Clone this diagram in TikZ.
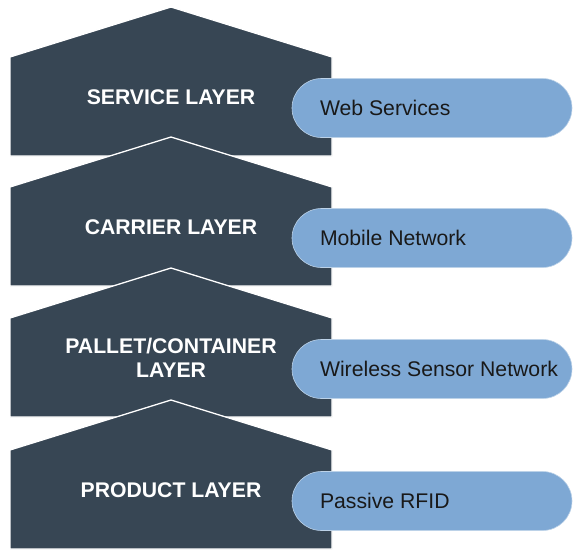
\documentclass[tikz,border=0pt]{standalone}
\usepackage{fontspec}
\setmainfont{Liberation Sans}
\usepackage{tikz}

\definecolor{slate}{HTML}{374654}
\definecolor{techblue}{HTML}{7EA8D4}
\definecolor{techedge}{HTML}{BCD2E8}

\tikzset{
    layer/.style={fill=slate, draw=white, line width=1.3pt, line join=miter},
    layername/.style={text=white, font=\fontsize{21.2}{24.5}\selectfont\bfseries, align=center},
    tech/.style={fill=techblue, draw=techedge, line width=0.6pt, rounded corners=29.5pt,
        minimum height=59pt, inner xsep=28pt, inner ysep=0pt,
        font=\fontsize{21.2}{24}\selectfont, text=black!90}
}

\begin{document}
\begin{tikzpicture}[x=1pt, y=-1pt]
    \useasboundingbox (0,0) rectangle (573,552);

    % Layers, top to bottom
    \foreach \y/\i/\name/\tech in {
        7/service/SERVICE LAYER/Web Services,
        137/carrier/CARRIER LAYER/Mobile Network,
        268/pallet/{PALLET/CONTAINER\\LAYER}/Wireless Sensor Network,
        400/product/PRODUCT LAYER/Passive RFID
    } {
        \draw[layer] (171,\y) -- (332,\y+50) -- (332,\y+149) -- (10,\y+149) -- (10,\y+50) -- cycle;
        \node[layername] (\i) at (171,\y+90) {\name};
        \node[tech] (\i-tech) at (432,\y+101) {\makebox[224pt][l]{\tech}};
    }
\end{tikzpicture}
\end{document}
